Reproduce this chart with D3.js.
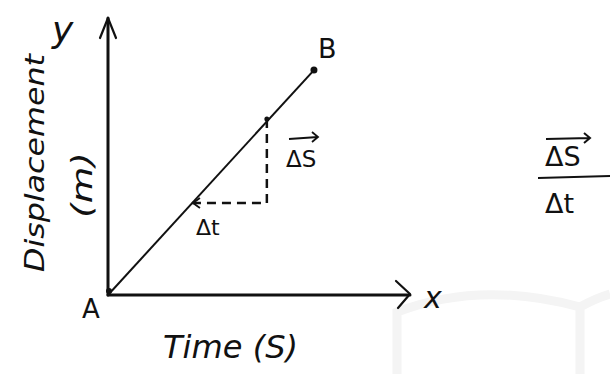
<!DOCTYPE html>
<html>
<head>
<meta charset="utf-8">
<script src="https://cdn.jsdelivr.net/npm/d3@7"></script>
<style>
  body { margin: 0; background: #fff; }
  svg text { font-family: "DejaVu Sans", sans-serif; fill: #111; }
</style>
</head>
<body>
<svg id="svg" width="610" height="374"></svg>
<script>
// displacement-time sketch, values in arbitrary units (0..10)
var linePoints = [{t: 0, s: 0}, {t: 6.82, s: 8.12}];      // A -> B
var pointA = {t: 0, s: 0};
var pointB = {t: 6.82, s: 8.12};
var slopeTriangle = [{t: 2.78, s: 3.32}, {t: 5.26, s: 3.32}, {t: 5.26, s: 6.43}];
var domainT = [0, 10];
var domainS = [0, 10];

var svg = d3.select("#svg");

var x = d3.scaleLinear().domain(domainT).range([108, 410]);
var y = d3.scaleLinear().domain(domainS).range([295, 18]);

// faint watermark in the lower right
svg.append("path")
  .attr("d", "M397,374 L397,312 Q480,280 580,307 L580,374 M580,307 Q596,298 610,294")
  .style("fill", "none").style("stroke", "#f4f4f4").style("stroke-width", 9);

// axes
var axisStyle = function(sel) {
  return sel.style("stroke", "#111").style("stroke-width", 3).style("fill", "none")
    .style("stroke-linecap", "round").style("stroke-linejoin", "round");
};
svg.append("line").attr("x1", x(0)).attr("y1", y(0)).attr("x2", x(0)).attr("y2", y(10))
  .call(axisStyle);
svg.append("path")
  .attr("d", "M" + (x(0) - 8) + "," + (y(10) + 20) + " L" + x(0) + "," + y(10) + " L" + (x(0) + 8) + "," + (y(10) + 20))
  .call(axisStyle).style("stroke-width", 2.2);
svg.append("line").attr("x1", x(0)).attr("y1", y(0)).attr("x2", x(10)).attr("y2", y(0))
  .call(axisStyle);
svg.append("path")
  .attr("d", "M" + (x(10) - 14) + "," + (y(0) - 14) + " L" + x(10) + "," + (y(0) - 1) + " L" + (x(10) - 12) + "," + (y(0) + 13))
  .call(axisStyle).style("stroke-width", 2.2);

// the line A -> B
var line = d3.line().x(function(d) { return x(d.t); }).y(function(d) { return y(d.s); });
svg.append("path").datum(linePoints).attr("d", line)
  .style("fill", "none").style("stroke", "#111").style("stroke-width", 2);
svg.append("circle").attr("cx", x(pointB.t)).attr("cy", y(pointB.s)).attr("r", 3.5).style("fill", "#111");
svg.append("circle").attr("cx", x(pointA.t) + 1).attr("cy", y(pointA.s) - 4).attr("r", 3).style("fill", "#111");

// dashed triangle
svg.append("path").datum(slopeTriangle).attr("d", line)
  .style("fill", "none").style("stroke", "#111").style("stroke-width", 2.5)
  .style("stroke-dasharray", "9,6");
var p0 = slopeTriangle[0];
svg.append("path")
  .attr("d", "M" + (x(p0.t) + 8) + "," + (y(p0.s) - 5) + " L" + (x(p0.t) + 1) + "," + y(p0.s) + " L" + (x(p0.t) + 8) + "," + (y(p0.s) + 5))
  .style("fill", "none").style("stroke", "#111").style("stroke-width", 1.8);
svg.append("circle").attr("cx", x(slopeTriangle[2].t)).attr("cy", y(slopeTriangle[2].s) + 2).attr("r", 2.5).style("fill", "#111");

// labels
function label(txt, px, py, size, opts) {
  opts = opts || {};
  var t = svg.append("text").attr("x", px).attr("y", py).text(txt)
    .style("font-size", size + "px")
    .style("font-style", opts.italic ? "italic" : "normal")
    .style("text-anchor", opts.anchor || "start");
  if (opts.len) t.attr("textLength", opts.len).attr("lengthAdjust", "spacingAndGlyphs");
  if (opts.rotate) t.attr("transform", "rotate(" + opts.rotate + "," + px + "," + py + ")");
  return t;
}

label("Displacement", 44, 272, 27, {italic: true, rotate: -90, len: 218});
label("(m)", 92, 218, 28, {italic: true, rotate: -90, len: 66});
label("y", 52, 42, 36, {italic: true});
label("B", 318, 58, 27);
label("A", 82, 318, 26);
label("x", 424, 308, 30, {italic: true});
label("Time (S)", 163, 358, 32, {italic: true, len: 135});
label("Δt", 196, 235, 22);
label("ΔS", 286, 167, 23);
// arrow over ΔS
svg.append("path").attr("d", "M289,139 L318,137 M312,132 L318,137 L312,142")
  .style("fill", "none").style("stroke", "#111").style("stroke-width", 1.8);

// fraction on the right
label("ΔS", 545, 166, 27);
svg.append("path").attr("d", "M546,139 L590,138 M584,133 L590,138 L584,143")
  .style("fill", "none").style("stroke", "#111").style("stroke-width", 2);
svg.append("line").attr("x1", 538).attr("y1", 178).attr("x2", 612).attr("y2", 176)
  .style("stroke", "#111").style("stroke-width", 2);
label("Δt", 545, 213, 27);
</script>
</body>
</html>
